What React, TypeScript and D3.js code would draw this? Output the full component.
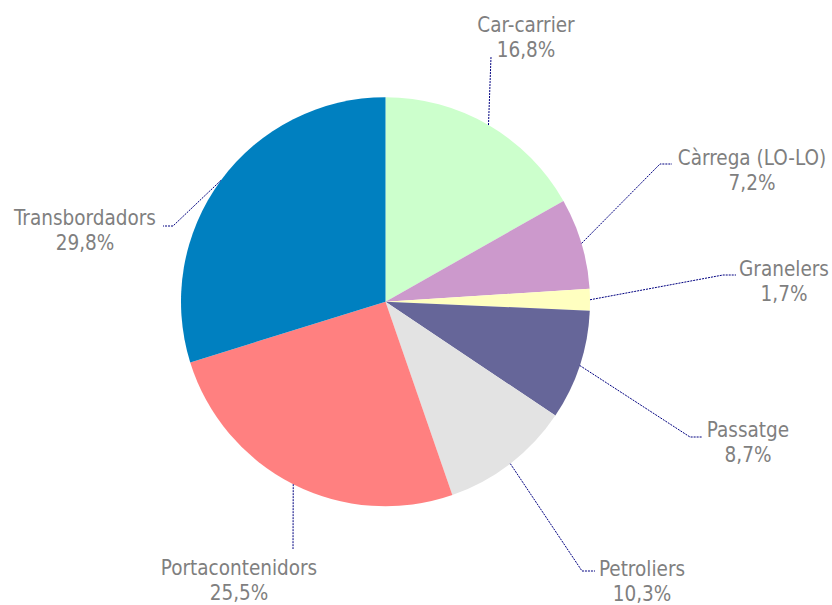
import React, { useEffect, useRef } from 'react';
import * as d3 from 'd3';

// ship types and share of traffic (%)
const categories = ['Car-carrier', 'Càrrega (LO-LO)', 'Granelers', 'Passatge', 'Petroliers', 'Portacontenidors', 'Transbordadors'];
const shares = [16.8, 7.2, 1.7, 8.7, 10.3, 25.5, 29.8];
const colors = ['#CCFFCC', '#CC99CC', '#FFFFC0', '#666699', '#E3E3E3', '#FF8080', '#0080C0'];

// label placement: text centre x, first baseline, leader elbow x/y, leader end x
const labelLayout = [
  { tx: 526, ty: 32, ex: 491, ey: 57, hx: 491 },
  { tx: 752, ty: 165, ex: 660, ey: 164, hx: 672 },
  { tx: 784, ty: 276, ex: 723, ey: 275, hx: 736 },
  { tx: 748, ty: 437, ex: 690, ey: 437, hx: 702 },
  { tx: 642, ty: 576, ex: 582, ey: 571, hx: 595 },
  { tx: 239, ty: 575, ex: 293, ey: 549, hx: 293 },
  { tx: 85, ty: 225, ex: 173, ey: 226, hx: 163 },
];

const W = 832;
const H = 605;
const cx = 385.5;
const cy = 301.7;
const R = 204.5;

const fmt = (v: number) => v.toFixed(1).replace('.', ',') + '%';

const App = () => {
  const ref = useRef<SVGSVGElement>(null);

  useEffect(() => {
    const svg = d3.select(ref.current);
    svg.selectAll('*').remove();

    const data = categories.map((c, i) => ({ name: c, value: shares[i], color: colors[i], pos: labelLayout[i] }));

    const pie = d3.pie<any>().value(d => d.value).sort(null).startAngle(0).endAngle(Math.PI * 2);
    const arcs = pie(data);
    const arc = d3.arc<any>().innerRadius(0).outerRadius(R);
    const edge = d3.arc<any>().innerRadius(R).outerRadius(R);

    const g = svg.append('g').attr('transform', `translate(${cx},${cy})`);

    g.selectAll('path.slice')
      .data(arcs)
      .enter()
      .append('path')
      .attr('class', 'slice')
      .attr('d', arc)
      .attr('fill', d => d.data.color);

    // leader lines
    const line = d3.line();
    arcs.forEach(d => {
      const [sx, sy] = edge.centroid(d);
      const p = d.data.pos;
      const pts: [number, number][] = [[sx + cx, sy + cy], [p.ex, p.ey], [p.hx, p.ey]];
      svg.append('path')
        .attr('d', line(pts))
        .attr('fill', 'none')
        .attr('stroke', '#000080')
        .attr('stroke-width', 1)
        .attr('stroke-dasharray', '2,1');
    });

    // labels
    arcs.forEach(d => {
      const p = d.data.pos;
      const t = svg.append('text')
        .attr('x', p.tx)
        .attr('y', p.ty)
        .attr('text-anchor', 'middle')
        .style('font-family', '"DejaVu Sans Condensed", "DejaVu Sans", sans-serif')
        .style('font-stretch', 'condensed')
        .style('font-size', '20.5px')
        .attr('fill', '#7f7f7f');
      t.append('tspan').attr('x', p.tx).text(d.data.name);
      t.append('tspan').attr('x', p.tx).attr('dy', 24.5).text(fmt(d.data.value));
    });
  }, []);

  return (
    <svg ref={ref} width={W} height={H} style={{ position: 'absolute', left: 0, top: 0, background: '#fff' }} />
  );
};

export default App;
